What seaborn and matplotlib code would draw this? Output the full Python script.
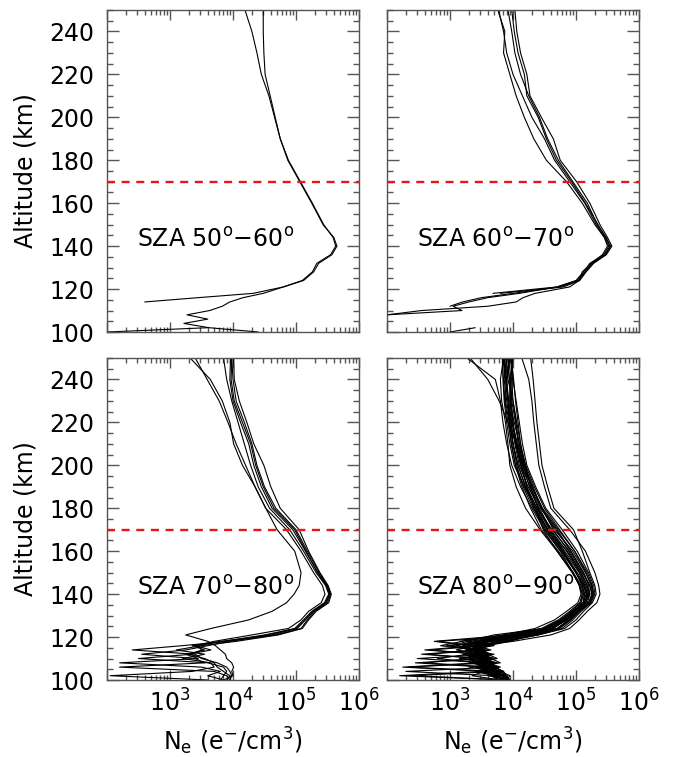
import numpy as np
import pandas as pd
import matplotlib
matplotlib.use("Agg")
import matplotlib.pyplot as plt
from matplotlib.ticker import LogLocator, MultipleLocator, FuncFormatter, NullFormatter
import seaborn as sns

nan = float("nan")

# Common altitude grid (km) shared by every profile
altitude_km = [250, 240, 230, 220, 210, 200, 190, 180, 170, 160, 150, 144, 140, 136,
               132, 128, 124, 121, 118, 116, 114, 112, 110, 108, 106, 104, 102, 100]

panel_labels = ["SZA 50$^{\\rm o}$\u221260$^{\\rm o}$",
                "SZA 60$^{\\rm o}$\u221270$^{\\rm o}$",
                "SZA 70$^{\\rm o}$\u221280$^{\\rm o}$",
                "SZA 80$^{\\rm o}$\u221290$^{\\rm o}$"]

reference_altitude_km = 170

# log10 electron density (e-/cm3) along altitude_km; nan = no data
log_ne_sza_50_60 = [
    [4.48, 4.48, 4.49, 4.51, 4.59, 4.67, 4.75, 4.87, 5.06, 5.25, 5.43, 5.60, 5.65, 5.57,
     5.36, 5.28, 5.12, 4.80, 4.32, 3.45, 2.60, nan, nan, nan, nan, nan, 3.60, 2.00],
    [4.19, 4.30, 4.38, 4.45, 4.57, 4.66, 4.75, 4.88, 5.07, 5.26, 5.44, 5.59, 5.63, 5.55,
     5.33, 5.26, 5.10, 4.80, 4.48, 4.16, 3.95, 3.83, 3.63, 3.27, 3.60, 3.22, 3.62, 4.40],
]

log_ne_sza_60_70 = [
    [3.77, 3.85, 3.90, 4.00, 4.15, 4.30, 4.50, 4.66, 4.90, 5.14, 5.32, 5.46, 5.52, 5.44,
     5.22, 5.12, 5.00, 4.70, 3.68, nan, nan, nan, nan, nan, nan, nan, nan, nan],
    [3.92, 3.98, 4.03, 4.12, 4.25, 4.42, 4.55, 4.72, 4.95, 5.18, 5.34, 5.48, 5.54, 5.46,
     5.25, 5.14, 5.02, 4.70, 4.10, 3.60, 3.30, 3.05, 3.19, 2.00, nan, nan, nan, nan],
    [3.76, 3.87, 3.85, 3.95, 4.05, 4.18, 4.33, 4.53, 4.85, 5.10, 5.30, 5.45, 5.50, 5.42,
     5.24, 5.10, 5.05, 4.90, 4.35, 4.16, 4.05, 3.60, 2.55, 2.00, nan, nan, nan, nan],
    [4.03, 4.06, 4.12, 4.22, 4.27, 4.45, 4.64, 4.75, 5.01, 5.22, 5.38, 5.50, 5.57, 5.48,
     5.28, 5.16, 5.06, 4.80, 3.80, nan, nan, nan, nan, nan, nan, nan, nan, nan],
    [3.98, 4.02, 4.08, 4.18, 4.22, 4.40, 4.53, 4.69, 4.93, 5.15, 5.35, 5.47, 5.55, 5.47,
     5.27, 5.15, 5.04, 4.75, 4.00, 3.50, 3.20, 3.00, nan, nan, nan, nan, 3.40, 3.00],
]

log_ne_sza_70_80 = [
    [3.32, 3.64, 3.83, 3.95, 4.01, 4.15, 4.35, 4.52, 4.70, 4.98, 5.08, 5.05, 4.97, 4.85,
     4.62, 4.25, 3.65, 3.25, 3.60, 3.72, 3.80, 3.88, 3.90, 3.98, 4.01, 3.98, 4.00, 3.85],
    [3.40, 3.59, 3.78, 3.92, 4.05, 4.20, 4.35, 4.52, 4.85, 5.08, 5.28, 5.42, 5.46, 5.40,
     5.20, 5.08, 4.88, 4.30, 3.70, 3.40, 3.65, 3.30, 3.55, 3.70, 3.75, 3.85, 3.95, 3.90],
    [3.85, 3.90, 3.98, 4.08, 4.18, 4.28, 4.40, 4.58, 4.90, 5.12, 5.32, 5.47, 5.52, 5.45,
     5.25, 5.12, 4.98, 4.55, 3.90, 3.20, 2.40, 3.40, 3.50, 3.75, 3.90, 3.95, 3.98, 3.95],
    [3.96, 3.95, 4.00, 4.12, 4.25, 4.33, 4.45, 4.62, 4.95, 5.15, 5.35, 5.49, 5.54, 5.48,
     5.28, 5.15, 5.02, 4.62, 3.80, 3.45, 3.50, 3.35, 2.50, 3.60, 3.85, 3.90, 3.85, 3.80],
    [3.98, 4.00, 4.05, 4.18, 4.30, 4.38, 4.50, 4.68, 5.00, 5.18, 5.37, 5.50, 5.55, 5.50,
     5.30, 5.18, 5.08, 4.68, 3.95, 3.60, 3.25, 2.55, 3.40, 3.55, 2.20, 3.70, 3.90, 3.95],
    [4.01, 4.02, 4.10, 4.22, 4.33, 4.49, 4.60, 4.75, 5.05, 5.20, 5.38, 5.51, 5.56, 5.52,
     5.32, 5.20, 5.10, 4.72, 4.05, 3.50, 3.10, 3.55, 3.20, 3.65, 3.70, 3.35, 2.05, 3.60],
    [3.98, 3.97, 4.02, 4.15, 4.28, 4.36, 4.48, 4.65, 4.98, 5.16, 5.34, 5.48, 5.53, 5.47,
     5.27, 5.14, 5.00, 4.50, 3.85, 3.35, 3.55, 3.25, 3.45, 2.20, 3.50, 3.80, 3.60, 3.85],
]

log_ne_sza_80_90 = [
    [4.28, 4.32, 4.35, 4.38, 4.42, 4.46, 4.55, 4.65, 4.96, 5.10, 5.22, 5.30, 5.32, 5.26,
     5.12, 5.00, 4.82, 4.40, 3.80, 3.50, 3.30, 3.60, 3.75, 3.40, 3.70, 3.85, 3.90, 3.95],
    [4.14, 4.25, 4.30, 4.33, 4.37, 4.41, 4.50, 4.60, 4.90, 5.15, 5.30, 5.36, 5.38, 5.33,
     5.18, 5.05, 4.90, 4.60, 4.00, 3.40, 3.10, 3.50, 3.65, 3.80, 3.30, 3.75, 3.85, 3.90],
    [3.27, 3.72, 3.80, 3.84, 3.90, 3.98, 4.12, 4.30, 4.50, 4.75, 4.95, 5.05, 5.08, 5.03,
     4.85, 4.66, 4.35, 3.85, 3.20, 2.85, 3.40, 3.55, 3.20, 3.60, 3.75, 3.50, 3.85, 3.80],
    [3.32, 3.60, 3.78, 3.92, 4.05, 4.15, 4.30, 4.45, 4.70, 4.92, 5.12, 5.20, 5.22, 5.15,
     4.95, 4.80, 4.58, 4.10, 3.40, 3.60, 3.45, 2.55, 3.50, 3.65, 3.70, 3.40, 3.80, 3.85],
    [3.83, 3.84, 3.86, 3.90, 3.95, 4.02, 4.18, 4.35, 4.52, 4.78, 5.00, 5.12, 5.16, 5.12,
     4.95, 4.78, 4.52, 4.00, 3.30, 3.55, 2.70, 3.45, 3.60, 3.30, 3.75, 3.80, 3.70, 3.90],
    [3.90, 3.88, 3.92, 3.96, 4.04, 4.12, 4.22, 4.38, 4.62, 4.90, 5.10, 5.22, 5.26, 5.20,
     5.00, 4.84, 4.62, 4.15, 3.50, 3.20, 3.40, 3.65, 2.48, 3.55, 3.70, 3.85, 3.60, 3.95],
    [3.95, 3.90, 3.88, 3.94, 4.00, 4.08, 4.20, 4.35, 4.48, 4.70, 4.94, 5.06, 5.10, 5.08,
     4.98, 4.80, 4.55, 4.20, 3.60, 3.35, 3.55, 3.40, 3.70, 3.45, 2.25, 3.60, 3.75, 3.85],
    [3.86, 3.92, 4.00, 4.05, 4.08, 4.18, 4.32, 4.45, 4.66, 4.95, 5.15, 5.25, 5.28, 5.22,
     5.02, 4.88, 4.70, 4.30, 3.70, 3.00, 3.35, 3.60, 3.50, 3.75, 3.55, 3.80, 3.90, 3.92],
    [4.00, 3.96, 3.95, 4.02, 4.10, 4.20, 4.28, 4.40, 4.58, 4.82, 5.05, 5.14, 5.18, 5.16,
     5.02, 4.90, 4.72, 4.35, 2.80, 3.40, 3.65, 3.30, 3.55, 3.70, 3.45, 3.65, 3.88, 3.95],
    [3.98, 4.00, 4.05, 4.10, 4.15, 4.22, 4.36, 4.52, 4.78, 5.02, 5.20, 5.28, 5.30, 5.24,
     5.08, 4.95, 4.78, 4.40, 3.90, 3.50, 3.25, 3.70, 3.35, 2.60, 3.65, 3.80, 3.95, 3.90],
    [3.85, 3.80, 3.82, 3.88, 3.92, 3.95, 4.05, 4.20, 4.43, 4.70, 4.95, 5.06, 5.10, 5.06,
     4.90, 4.72, 4.45, 3.95, 3.40, 3.10, 3.50, 3.35, 3.60, 3.50, 3.72, 2.30, 3.70, 3.85],
    [3.92, 3.94, 3.96, 4.00, 4.03, 4.10, 4.24, 4.42, 4.60, 4.85, 5.06, 5.16, 5.20, 5.13,
     4.94, 4.78, 4.55, 4.05, 3.45, 3.65, 3.40, 3.20, 3.55, 3.68, 3.40, 3.75, 2.40, 3.90],
    [3.88, 3.95, 3.98, 4.04, 4.10, 4.16, 4.26, 4.40, 4.58, 4.80, 5.00, 5.12, 5.17, 5.15,
     5.00, 4.85, 4.62, 4.18, 3.55, 2.95, 3.50, 3.65, 3.40, 3.70, 3.60, 3.50, 3.80, 3.70],
    [3.99, 3.98, 4.00, 4.06, 4.12, 4.18, 4.30, 4.47, 4.72, 4.98, 5.18, 5.26, 5.28, 5.22,
     5.05, 4.90, 4.70, 4.25, 3.65, 3.30, 3.50, 2.65, 3.45, 3.60, 3.80, 3.55, 3.85, 3.92],
    [3.94, 3.90, 3.93, 3.98, 4.06, 4.14, 4.22, 4.33, 4.50, 4.76, 5.00, 5.10, 5.14, 5.11,
     4.96, 4.82, 4.64, 4.30, 3.95, 3.60, 3.40, 3.55, 3.30, 3.65, 2.35, 3.75, 3.85, 3.95],
    [3.84, 3.88, 3.93, 3.97, 4.00, 4.06, 4.16, 4.32, 4.56, 4.86, 5.08, 5.18, 5.20, 5.14,
     4.95, 4.76, 4.50, 3.98, 2.75, 3.30, 3.55, 3.45, 3.65, 3.35, 3.60, 3.78, 3.65, 3.80],
    [3.96, 3.99, 3.97, 4.00, 4.05, 4.13, 4.27, 4.44, 4.68, 4.92, 5.12, 5.22, 5.25, 5.20,
     5.03, 4.86, 4.60, 4.10, 3.50, 3.70, 3.25, 3.50, 3.60, 2.45, 3.55, 3.70, 3.82, 3.88],
    [3.90, 3.86, 3.90, 3.95, 4.00, 4.08, 4.20, 4.38, 4.55, 4.78, 5.00, 5.10, 5.13, 5.12,
     4.99, 4.84, 4.64, 4.22, 3.62, 3.40, 2.60, 3.50, 3.70, 3.55, 3.45, 3.72, 3.90, 3.85],
    [3.97, 4.01, 4.04, 4.08, 4.12, 4.20, 4.34, 4.50, 4.74, 4.98, 5.16, 5.24, 5.27, 5.23,
     5.06, 4.92, 4.74, 4.38, 3.85, 3.55, 3.35, 3.50, 3.15, 3.60, 3.75, 3.50, 2.20, 3.90],
    [3.87, 3.85, 3.87, 3.92, 3.98, 4.04, 4.14, 4.28, 4.45, 4.72, 4.96, 5.08, 5.12, 5.08,
     4.92, 4.75, 4.50, 3.70, 3.25, 3.50, 3.35, 3.60, 3.45, 3.70, 3.50, 3.65, 3.75, 3.82],
    [3.93, 3.97, 3.95, 3.99, 4.07, 4.16, 4.30, 4.46, 4.64, 4.88, 5.08, 5.18, 5.22, 5.18,
     5.00, 4.83, 4.62, 4.28, 3.75, 3.45, 3.60, 3.30, 2.80, 3.50, 3.65, 3.40, 3.70, 3.90],
    [3.84, 3.90, 3.92, 3.94, 3.97, 4.04, 4.18, 4.36, 4.54, 4.80, 5.02, 5.14, 5.18, 5.14,
     4.96, 4.76, 4.48, 3.85, 3.15, 3.40, 3.55, 3.40, 3.60, 3.45, 3.65, 3.55, 3.35, 3.80],
]

panel_profiles = [log_ne_sza_50_60, log_ne_sza_60_70, log_ne_sza_70_80, log_ne_sza_80_90]


def profiles_frame(profiles):
    """Long table of profile points; a new segment starts after every gap."""
    rows = []
    seg = 0
    for curve in profiles:
        seg += 1
        for alt, lv in zip(altitude_km, curve):
            if np.isnan(lv):
                seg += 1
                continue
            rows.append({"segment": seg, "alt": alt, "ne": 10.0 ** lv})
    return pd.DataFrame(rows)


sns.set_theme(style="white")
plt.rcParams["font.family"] = ["DejaVu Sans"]
plt.rcParams["mathtext.fontset"] = "dejavusans"
plt.rcParams["axes.labelcolor"] = "black"
plt.rcParams["text.color"] = "black"

FIG_W, FIG_H = 676, 757
fig = plt.figure(figsize=(FIG_W / 100, FIG_H / 100), dpi=100)

# panel boxes in pixels: (left, top)
panel_w, panel_h = 252, 322
boxes = [(107, 10), (387, 10), (107, 358), (387, 358)]
spine_col = "#555555"
fs = 17


def decade_label(v, pos):
    e = int(round(np.log10(v)))
    if e < 3:
        return ""
    return "$10^{%d}$" % e


for i, (left, top) in enumerate(boxes):
    ax = fig.add_axes([left / FIG_W, (FIG_H - top - panel_h) / FIG_H,
                       panel_w / FIG_W, panel_h / FIG_H])
    df = profiles_frame(panel_profiles[i])
    sns.lineplot(data=df, x="ne", y="alt", units="segment", estimator=None,
                 sort=False, color="black", linewidth=0.8, ax=ax, legend=False)
    ax.axhline(reference_altitude_km, color="#e8161b", linewidth=1.7,
               linestyle=(0, (3.4, 2.8)))

    ax.set_xscale("log")
    ax.set_xlim(1e2, 1e6)
    ax.set_ylim(100, 250)
    ax.xaxis.set_major_locator(LogLocator(base=10, numticks=10))
    ax.xaxis.set_minor_locator(LogLocator(base=10, subs=np.arange(2, 10), numticks=20))
    ax.xaxis.set_major_formatter(FuncFormatter(decade_label))
    ax.xaxis.set_minor_formatter(NullFormatter())
    ax.yaxis.set_major_locator(MultipleLocator(20))
    ax.yaxis.set_minor_locator(MultipleLocator(5))

    ax.tick_params(which="both", direction="in", top=True, right=True,
                   bottom=True, left=True, color=spine_col, width=1.0,
                   labelsize=fs, labelcolor="black")
    ax.tick_params(axis="y", which="major", length=8.5, pad=9)
    ax.tick_params(axis="y", which="minor", length=4.3)
    ax.tick_params(axis="x", which="major", length=7, pad=7)
    ax.tick_params(axis="x", which="minor", length=3.6)
    for sp in ax.spines.values():
        sp.set_color(spine_col)
        sp.set_linewidth(1.0)

    row, col = divmod(i, 2)
    if row == 0:
        ax.tick_params(axis="x", labelbottom=False)
        ax.set_xlabel("")
    else:
        ax.set_xlabel("N$_{\\rm e}$ (e$^{-}$/cm$^{3}$)", fontsize=fs, labelpad=6,
                      color="black")
    if col == 1:
        ax.tick_params(axis="y", labelleft=False)
    ax.set_ylabel("")

    ax.text(0.12, 0.286, panel_labels[i], transform=ax.transAxes,
            ha="left", va="center", fontsize=fs, color="black")

# shared altitude labels for each row
for top in (10, 358):
    yc = 1 - (top + panel_h / 2) / FIG_H
    fig.text(26 / FIG_W, yc, "Altitude (km)", rotation=90, ha="center",
             va="center", fontsize=fs, color="black")

fig.savefig("out.png", dpi=100)
